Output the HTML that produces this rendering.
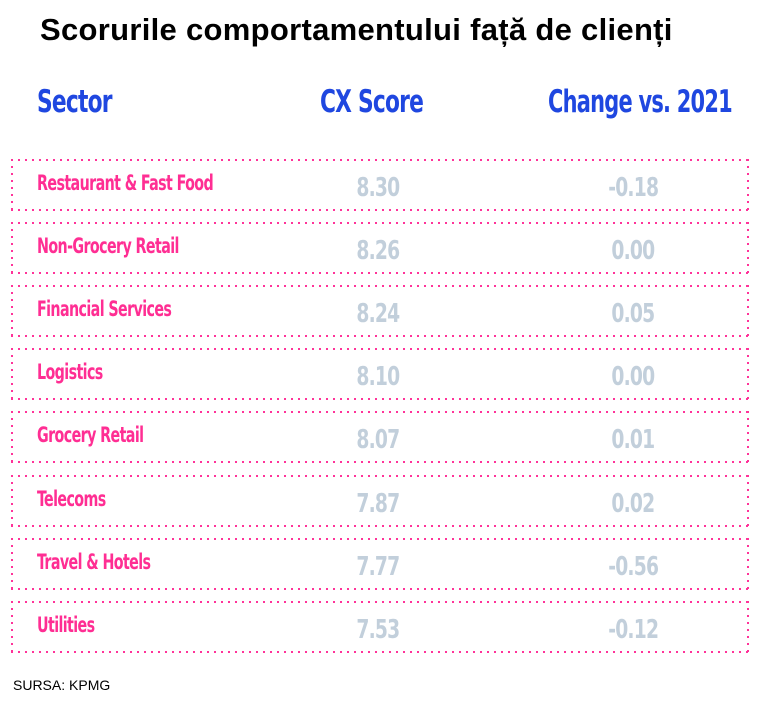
<!DOCTYPE html>
<html><head><meta charset="utf-8"><style>
body{margin:0;width:762px;height:707px;background:#fff;position:relative;overflow:hidden;font-family:"Liberation Sans",sans-serif}
.title{position:absolute;left:40px;top:12px;font-weight:bold;font-size:31px;color:#000;white-space:nowrap;letter-spacing:0.3px}
.cond{font-family:"Liberation Sans Narrow","DejaVu Sans Condensed","Liberation Sans",sans-serif;font-weight:bold;display:inline-block;transform-origin:0 50%;white-space:nowrap}
.hdr{position:absolute;top:84px;color:#1f47e0;font-size:31px;letter-spacing:-1px}
.box{position:absolute;left:11px;width:738px;height:52px;
background-image:
repeating-linear-gradient(90deg,#ff3399 0 2px,transparent 2px 7px),
repeating-linear-gradient(90deg,#ff3399 0 2px,transparent 2px 7px),
repeating-linear-gradient(180deg,#ff3399 0 2px,transparent 2px 7px),
repeating-linear-gradient(180deg,#ff3399 0 2px,transparent 2px 7px);
background-size:100% 2px,100% 2px,2px 100%,2px 100%;
background-position:0 0,0 100%,0 0,100% 0;background-repeat:no-repeat}
.sec{position:absolute;left:26px;top:12px;color:#ff2e93;font-size:21px;letter-spacing:-0.8px}
.val{position:absolute;top:13px;color:#c2cfdb;font-size:26px;width:120px;text-align:center;letter-spacing:-1px}
.src{position:absolute;left:13px;top:677px;font-size:14px;color:#000}
</style></head><body>
<div class="title">Scorurile comportamentului față de clienți</div>
<div class="hdr" style="left:37px"><span class="cond" style="transform:scaleX(.78)">Sector</span></div>
<div class="hdr" style="left:320px"><span class="cond" style="transform:scaleX(.78)">CX Score</span></div>
<div class="hdr" style="left:548px"><span class="cond" style="transform:scaleX(.75)">Change vs. 2021</span></div>
<div id="rows"></div>
<div class="src">SURSA: KPMG</div>
<script>
const sectors=["Restaurant & Fast Food","Non-Grocery Retail","Financial Services","Logistics","Grocery Retail","Telecoms","Travel & Hotels","Utilities"];
const cxScores=["8.30","8.26","8.24","8.10","8.07","7.87","7.77","7.53"];
const changes=["-0.18","0.00","0.05","0.00","0.01","0.02","-0.56","-0.12"];
const host=document.getElementById('rows');
sectors.forEach((s,i)=>{
  const b=document.createElement('div');
  b.className='box';
  b.style.top=(159+i*63.1)+'px';
  
  
  const a=document.createElement('div');a.className='sec';
  
  
  a.innerHTML='<span class="cond" style="transform:scaleX(.755)"></span>';
  a.firstChild.textContent=s;
  const c=document.createElement('div');c.className='val';c.style.left='307px';
  
  
  c.innerHTML='<span class="cond" style="transform:scaleX(.8);transform-origin:50% 50%"></span>';
  c.firstChild.textContent=cxScores[i];
  const d=document.createElement('div');d.className='val';d.style.left='562px';
  
  
  d.innerHTML='<span class="cond" style="transform:scaleX(.8);transform-origin:50% 50%"></span>';
  d.firstChild.textContent=changes[i];
  b.append(a,c,d);host.appendChild(b);
});
</script>
</body></html>
